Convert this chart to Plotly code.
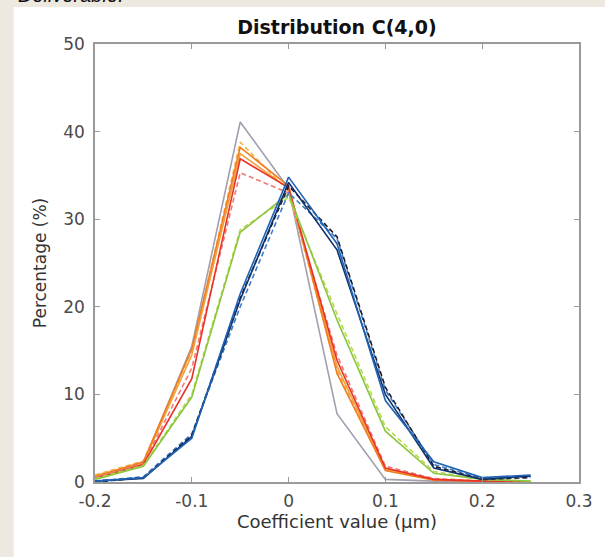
import plotly.graph_objects as go

x = [-0.2, -0.15, -0.1, -0.05, 0, 0.05, 0.1, 0.15, 0.2, 0.25]

gray_solid = [0.5, 2.2, 15.5, 41.1, 33.5, 7.8, 0.3, 0.1, 0.0, 0.0]
orange_solid = [0.6, 2.3, 15.2, 38.2, 33.8, 12.4, 1.3, 0.2, 0.1, 0.0]
orange_dash = [0.8, 2.4, 15.0, 38.8, 33.2, 12.8, 1.4, 0.3, 0.1, 0.0]
amber_solid = [0.7, 2.2, 14.5, 37.5, 33.5, 13.2, 1.5, 0.3, 0.1, 0.0]
red_solid = [0.4, 2.0, 11.8, 36.9, 33.6, 13.9, 1.6, 0.3, 0.1, 0.0]
red_dash = [0.5, 2.1, 13.0, 35.3, 33.0, 14.5, 1.8, 0.4, 0.1, 0.0]
green_solid = [0.3, 1.8, 9.7, 28.5, 32.9, 18.5, 5.8, 1.0, 0.3, 0.1]
green_dash = [0.4, 1.9, 10.0, 28.8, 32.5, 19.2, 6.3, 1.2, 0.3, 0.1]
blue_solid = [0.1, 0.5, 5.0, 21.5, 34.8, 27.2, 9.3, 2.3, 0.5, 0.8]
navy_solid = [0.1, 0.4, 5.2, 20.8, 34.2, 26.5, 10.0, 1.6, 0.3, 0.7]
blue_dash = [0.1, 0.6, 5.5, 20.0, 33.0, 27.8, 10.5, 2.0, 0.4, 0.6]
black_dash = [0.0, 0.5, 5.3, 21.0, 33.8, 28.0, 10.8, 1.8, 0.3, 0.5]

series = [
    (gray_solid, "#a39fae", "solid"),
    (orange_dash, "#f6b245", "5px,3px"),
    (amber_solid, "#f2a23a", "solid"),
    (orange_solid, "#ef7d22", "solid"),
    (red_dash, "#f17a72", "5px,3px"),
    (red_solid, "#e8322a", "solid"),
    (green_dash, "#b9d94c", "5px,3px"),
    (green_solid, "#8cc63e", "solid"),
    (blue_dash, "#3d7cc9", "5px,3px"),
    (black_dash, "#1a1a2a", "5px,3px"),
    (navy_solid, "#13316b", "solid"),
    (blue_solid, "#1f63b4", "solid"),
]

fig = go.Figure()
for ys, col, dash in series:
    fig.add_trace(go.Scatter(x=x, y=ys, mode="lines",
                             line=dict(color=col, width=1.6, dash=dash),
                             showlegend=False))

font = "DejaVu Sans, sans-serif"

# white page on beige background
fig.add_shape(type="rect", xref="paper", yref="paper",
              x0=-0.168, x1=1.2, y0=-0.3, y1=1.0845,
              fillcolor="white", line=dict(width=0), layer="below")

fig.add_annotation(text="<i>Deliverable.</i>", xref="paper", yref="paper",
                   x=-0.163, y=1.083, xanchor="left", yanchor="bottom",
                   showarrow=False,
                   font=dict(family="Liberation Sans, Arial, sans-serif", size=20, color="#111"))

fig.update_layout(
    width=605, height=557,
    margin=dict(l=95, r=21, t=44, b=75),
    paper_bgcolor="#ede9e0",
    plot_bgcolor="white",
    title=dict(text="<b>Distribution C(4,0)</b>", x=0.5, xref="paper",
               y=1 - 27 / 557, yanchor="middle",
               font=dict(family=font, size=19, color="#111")),
    font=dict(family=font, size=17, color="#4a4a4a"),
)
fig.update_xaxes(range=[-0.2, 0.3], tickvals=[-0.2, -0.1, 0, 0.1, 0.2, 0.3],
                 ticktext=["-0.2", "-0.1", "0", "0.1", "0.2", "0.3"],
                 showgrid=False, zeroline=False, showline=True, linecolor="#9a9a9a",
                 linewidth=1.5, mirror="ticks", ticks="inside", ticklen=5,
                 tickcolor="#9a9a9a", ticklabelstandoff=3,
                 title=dict(text="Coefficient value (µm)", font=dict(size=18, color="#333"),
                            standoff=4))
fig.update_yaxes(range=[0, 50], tickvals=[0, 10, 20, 30, 40, 50],
                 showgrid=False, zeroline=False, showline=True, linecolor="#9a9a9a",
                 linewidth=1.5, mirror="ticks", ticks="inside", ticklen=5,
                 tickcolor="#9a9a9a", ticklabelstandoff=5,
                 title=dict(text="Percentage (%)", font=dict(size=17, color="#333"),
                            standoff=12))

fig.write_html("out.html", config={"displayModeBar": False},
               post_script="document.body.style.margin='0';document.body.style.overflow='hidden';")
